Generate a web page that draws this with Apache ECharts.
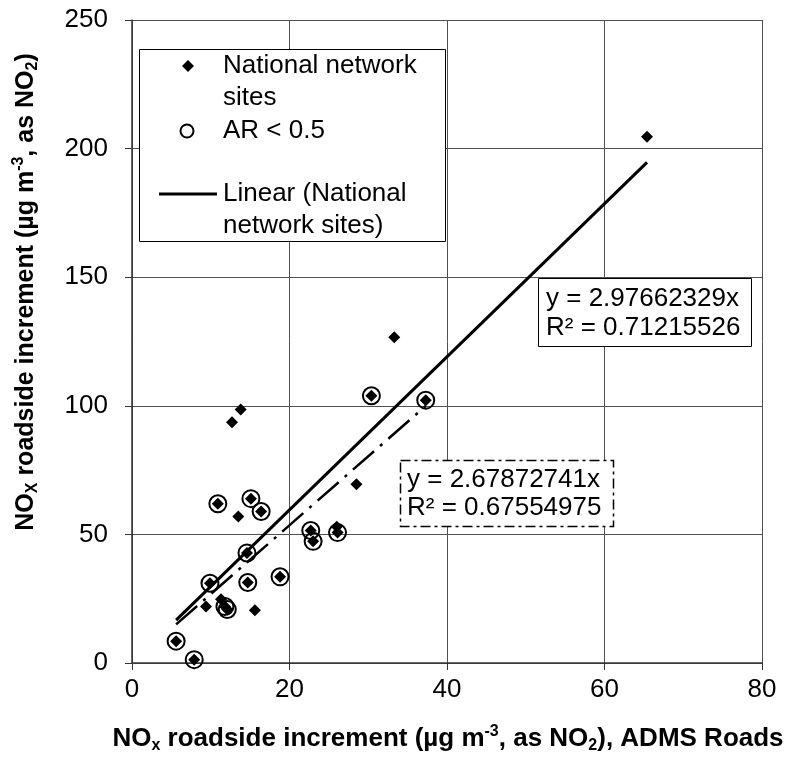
<!DOCTYPE html>
<html><head><meta charset="utf-8">
<script src="https://cdn.jsdelivr.net/npm/echarts@6/dist/echarts.min.js"></script>
<style>html,body{margin:0;padding:0;background:#fff}#c{width:796px;height:760px}</style>
</head><body><div id="c"></div>
<script>
// ---- data ----
const xTicks = [0, 20, 40, 60, 80];
const yTicks = [0, 50, 100, 150, 200, 250];
// all national network sites (diamonds)
const siteX = [5.6, 7.9, 9.4, 9.9, 10.9, 11.3, 11.8, 12.1, 12.7, 13.5, 13.8, 14.6, 14.7, 15.1, 15.6, 16.4, 18.8, 22.7, 23.0, 26.0, 26.1, 28.5, 30.4, 33.3, 37.3, 65.4];
const siteY = [8.5, 1.3, 22.0, 31.0, 61.9, 24.8, 22.0, 20.8, 93.6, 57.0, 98.6, 42.8, 31.3, 63.9, 20.5, 58.9, 33.5, 51.5, 47.3, 53.0, 50.7, 69.5, 103.9, 126.7, 102.2, 204.6];
// sites with AR < 0.5 (circles)
const arX = [5.6, 7.9, 9.9, 10.9, 11.8, 12.1, 14.6, 14.7, 15.1, 16.4, 18.8, 22.7, 23.0, 26.1, 30.4, 37.3];
const arY = [8.5, 1.3, 31.0, 61.9, 22.0, 20.8, 42.8, 31.3, 63.9, 58.9, 33.5, 51.5, 47.3, 50.7, 103.9, 102.2];
// trend line equations shown on the chart
const slopeAll = 2.97662329, r2All = 0.71215526;
const slopeAR = 2.67872741, r2AR = 0.67554975;
const legendLines = [['National network', 'sites'], ['AR < 0.5'], ['Linear (National', 'network sites)']];

// ---- build ----
const FONT = 'Liberation Sans, Arial, sans-serif';
const zip = (xs, ys) => xs.map((x, i) => [x, ys[i]]);
const trend = (xs, k) => { const a = Math.min(...xs), b = Math.max(...xs); return [[a, k * a], [b, k * b]]; };

const chart = echarts.init(document.getElementById('c'), null, {renderer: 'canvas'});

function T(x, y, text, extra) {
  return {type: 'text', x: x, y: y, z: 101, style: Object.assign({
    text: text, fill: '#000', fontSize: 26, fontFamily: FONT,
    textAlign: 'left', textVerticalAlign: 'middle'
  }, extra || {})};
}

const subSup = {
  sub: {fontSize: 16, fontFamily: FONT, fontWeight: 'bold', verticalAlign: 'bottom', lineHeight: 16},
  sup: {fontSize: 16, fontFamily: FONT, fontWeight: 'bold', verticalAlign: 'top', lineHeight: 16}
};

const option = {
  animation: false,
  backgroundColor: '#fff',
  grid: {left: 132, right: 34, top: 20, bottom: 97},
  xAxis: {
    type: 'value', min: xTicks[0], max: xTicks[xTicks.length - 1], interval: 20,
    axisLine: {show: true, onZero: false, lineStyle: {color: '#333', width: 1.5}},
    axisTick: {show: true, length: 7, lineStyle: {color: '#333'}},
    axisLabel: {margin: 14, color: '#000', fontSize: 26, fontFamily: FONT},
    splitLine: {show: true, lineStyle: {color: '#505050', width: 1}}
  },
  yAxis: {
    type: 'value', min: yTicks[0], max: yTicks[yTicks.length - 1], interval: 50,
    axisLine: {show: true, onZero: false, lineStyle: {color: '#333', width: 1.5}},
    axisTick: {show: true, length: 7, lineStyle: {color: '#333'}},
    axisLabel: {margin: 24, color: '#000', fontSize: 26, fontFamily: FONT},
    splitLine: {show: true, lineStyle: {color: '#505050', width: 1}}
  },
  series: [
    {
      name: 'AR < 0.5', type: 'scatter', symbol: 'circle', symbolSize: 17, z: 2,
      itemStyle: {color: 'rgba(0,0,0,0)', borderColor: '#000', borderWidth: 2, opacity: 1},
      data: zip(arX, arY)
    },
    {
      name: 'National network sites', type: 'scatter', symbol: 'diamond', symbolSize: 12, z: 3,
      itemStyle: {color: '#000', opacity: 1},
      data: zip(siteX, siteY)
    },
    {
      name: 'Linear (National network sites)', type: 'line', symbol: 'none', z: 4,
      lineStyle: {color: '#000', width: 3},
      data: trend(siteX, slopeAll)
    },
    {
      name: 'Linear (AR < 0.5)', type: 'line', symbol: 'none', z: 4,
      lineStyle: {color: '#000', width: 2.5, type: [28, 8, 3, 8]},
      data: trend(arX, slopeAR)
    }
  ],
  graphic: [
    // legend
    {type: 'rect', z: 100, shape: {x: 139.5, y: 49.5, width: 306, height: 192},
     style: {fill: '#fff', stroke: '#000', lineWidth: 1}},
    {type: 'polygon', z: 101, shape: {points: [[188, 60], [194, 66], [188, 72], [182, 66]]}, style: {fill: '#000'}},
    T(223, 66, legendLines[0][0]),
    T(223, 98, legendLines[0][1]),
    {type: 'circle', z: 101, shape: {cx: 187, cy: 131, r: 6.5}, style: {fill: 'none', stroke: '#000', lineWidth: 2}},
    T(223, 131, legendLines[1][0]),
    {type: 'line', z: 101, shape: {x1: 159, y1: 194, x2: 217, y2: 194}, style: {stroke: '#000', lineWidth: 3}},
    T(223, 194, legendLines[2][0]),
    T(223, 226, legendLines[2][1]),
    // equation box 1
    {type: 'rect', z: 100, shape: {x: 538.5, y: 278.5, width: 213, height: 68},
     style: {fill: '#fff', stroke: '#000', lineWidth: 1}},
    T(546, 299, 'y = ' + slopeAll.toFixed(8) + 'x'),
    T(546, 328, 'R\u00B2 = ' + r2All.toFixed(8)),
    // equation box 2
    {type: 'rect', z: 100, shape: {x: 400.5, y: 460.5, width: 213, height: 66},
     style: {fill: '#fff', stroke: '#000', lineWidth: 1.5, lineDash: [10, 4, 3, 4]}},
    T(407, 480, 'y = ' + slopeAR.toFixed(8) + 'x'),
    T(407, 508, 'R\u00B2 = ' + r2AR.toFixed(8)),
    // axis titles
    {type: 'text', z: 101, x: 448, y: 739, style: {
      text: 'NO{sub|x} roadside increment (\u00B5g m{sup|-3}, as NO{sub|2}), ADMS Roads',
      fill: '#000', fontSize: 26, fontWeight: 'bold', fontFamily: FONT, lineHeight: 30,
      textAlign: 'center', textVerticalAlign: 'middle',
      rich: subSup}},
    {type: 'text', z: 101, x: 26, y: 292, rotation: Math.PI / 2, style: {
      text: 'NO{sub|X} roadside increment (\u00B5g m{sup|-3}, as NO{sub|2})',
      fill: '#000', fontSize: 25, fontWeight: 'bold', fontFamily: FONT, lineHeight: 30,
      textAlign: 'center', textVerticalAlign: 'middle',
      rich: subSup}}
  ]
};
chart.setOption(option);
</script>
</body></html>
